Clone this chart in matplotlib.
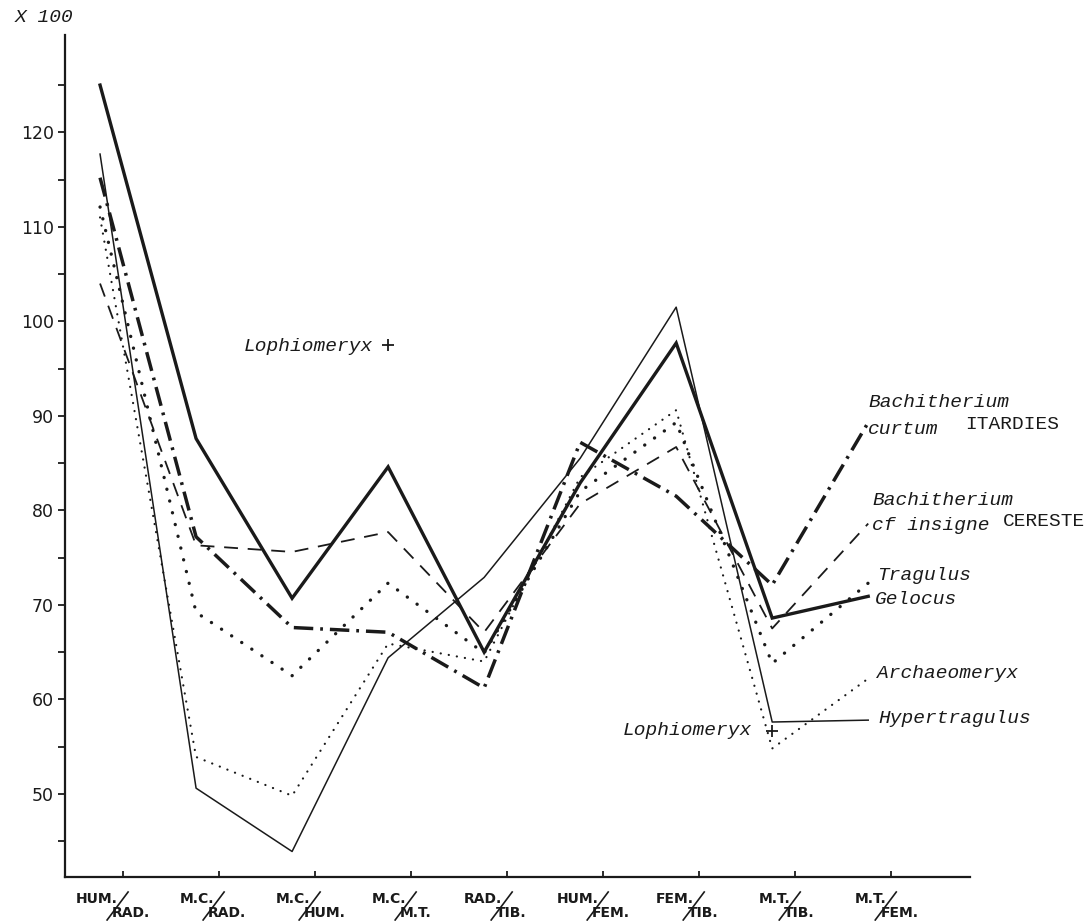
import matplotlib
matplotlib.use("Agg")
import matplotlib.pyplot as plt
from matplotlib.lines import Line2D
from matplotlib.transforms import IdentityTransform

# ---------------- data ----------------
categories = ["HUM./RAD.", "M.C./RAD.", "M.C./HUM.", "M.C./M.T.", "RAD./TIB.",
              "HUM./FEM.", "FEM./TIB.", "M.T./TIB.", "M.T./FEM."]
numerators = ["HUM.", "M.C.", "M.C.", "M.C.", "RAD.", "HUM.", "FEM.", "M.T.", "M.T."]
denominators = ["RAD.", "RAD.", "HUM.", "M.T.", "TIB.", "FEM.", "TIB.", "TIB.", "FEM."]

gelocus = [125.0, 87.6, 70.7, 84.6, 65.0, 82.9, 97.7, 68.6, 70.9]
hypertragulus = [117.7, 50.6, 43.9, 64.4, 72.9, 85.5, 101.5, 57.6, 57.8]
bach_curtum = [115.2, 77.2, 67.6, 67.1, 61.2, 87.2, 81.5, 72.1, 89.3]
bach_insigne = [104.0, 76.3, 75.6, 77.7, 67.1, 80.7, 86.7, 67.5, 78.6]
tragulus = [112.1, 69.2, 62.5, 72.3, 64.9, 82.0, 89.3, 63.8, 72.3]
archaeomeryx = [111.0, 53.9, 49.8, 65.9, 64.0, 83.5, 90.6, 54.8, 62.2]

lophio_cat = [3, 7]
lophio_val = [97.5, 56.6]

y_major = [50, 60, 70, 80, 90, 100, 110, 120]
y_minor = [45, 55, 65, 75, 85, 95, 105, 115, 125]

# ---------------- figure ----------------
plt.rcParams['lines.scale_dashes'] = False
W, H = 1089, 921
fig = plt.figure(figsize=(W / 100, H / 100), dpi=100)
fig.patch.set_facecolor("white")
ax = fig.add_axes([65 / W, 1 - 877 / H, (970 - 65) / W, (877 - 35) / H])
ax.set_xlim(-0.365, 9.06)
ax.set_ylim(41.2, 130.3)

x = list(range(len(categories)))
ink = "#1a1a1a"

ax.plot(x, gelocus, color=ink, lw=2.4, solid_joinstyle='miter')
ax.plot(x, hypertragulus, color=ink, lw=1.1)
l, = ax.plot(x, bach_curtum, color=ink, lw=2.5, dash_capstyle='butt')
l.set_dashes((14, 5, 2, 5))
l, = ax.plot(x, bach_insigne, color=ink, lw=1.3)
l.set_dashes((10, 7))
l, = ax.plot(x, tragulus, color=ink, lw=2.4, dash_capstyle='round')
l.set_dashes((0.1, 8.6))
l, = ax.plot(x, archaeomeryx, color=ink, lw=1.6, dash_capstyle='round')
l.set_dashes((0.1, 5.8))
ax.plot(lophio_cat, lophio_val, linestyle='none', marker='+', ms=9, mew=1.3, color=ink)

# spines
for s in ['top', 'right']:
    ax.spines[s].set_visible(False)
for s in ['left', 'bottom']:
    ax.spines[s].set_linewidth(1.6)
    ax.spines[s].set_color(ink)

ax.set_yticks(y_major)
ax.set_yticks(y_minor, minor=True)
ax.set_yticklabels([str(v) for v in y_major], fontsize=12.5, family='DejaVu Sans', color=ink)
ax.tick_params(axis='y', which='both', direction='out', length=5, width=1.3, pad=3, colors=ink)

tick_x = [i + 0.24 for i in x]
ax.set_xticks(tick_x)
ax.set_xticklabels([])
ax.tick_params(axis='x', which='major', direction='in', length=4, width=1.3, colors=ink)

# custom fraction-style x labels
lab_font = dict(family=['Liberation Sans Narrow', 'DejaVu Sans'], fontsize=10,
                fontweight='bold', color=ink)
for tx, num, den in zip(tick_x, numerators, denominators):
    px, py = ax.transData.transform((tx, 41.2))
    fig.text((px - 5) / W, (py - 22) / H, num, ha='right', va='center', **lab_font)
    fig.text((px - 11) / W, (py - 36) / H, den, ha='left', va='center', **lab_font)
    fig.add_artist(Line2D([px + 5, px - 16], [py - 15, py - 43],
                          transform=IdentityTransform(), color=ink, lw=1.2))

# labels
mono_it = dict(family='Liberation Mono', style='italic', fontsize=14, color=ink)
mono = dict(family='Liberation Mono', fontsize=14, color=ink)

def px2d(px, py):
    return (px - 100) / 96.0, 100 - (py - 321) / 9.45

def put(px, py, s, ha='left', **kw):
    xx, yy = px2d(px, py)
    ax.text(xx, yy, s, ha=ha, va='center', clip_on=False, **kw)

put(868, 402, "Bachitherium", **mono_it)
put(868, 429, "curtum", **mono_it)
put(965, 424, "ITARDIES", **mono)
put(872, 500, "Bachitherium", **mono_it)
put(872, 525, "cf insigne", **mono_it)
put(1003, 521, "CERESTE", **mono)
put(877, 575, "Tragulus", **mono_it)
put(875, 599, "Gelocus", **mono_it)
put(877, 673, "Archaeomeryx", **mono_it)
put(878, 718, "Hypertragulus", **mono_it)
put(373, 346, "Lophiomeryx", ha='right', **mono_it)
put(752, 730, "Lophiomeryx", ha='right', **mono_it)

fig.text(15 / W, 1 - 18 / H, "X 100", ha='left', va='center', **mono_it)

fig.savefig("out.png", dpi=100, facecolor="white")
